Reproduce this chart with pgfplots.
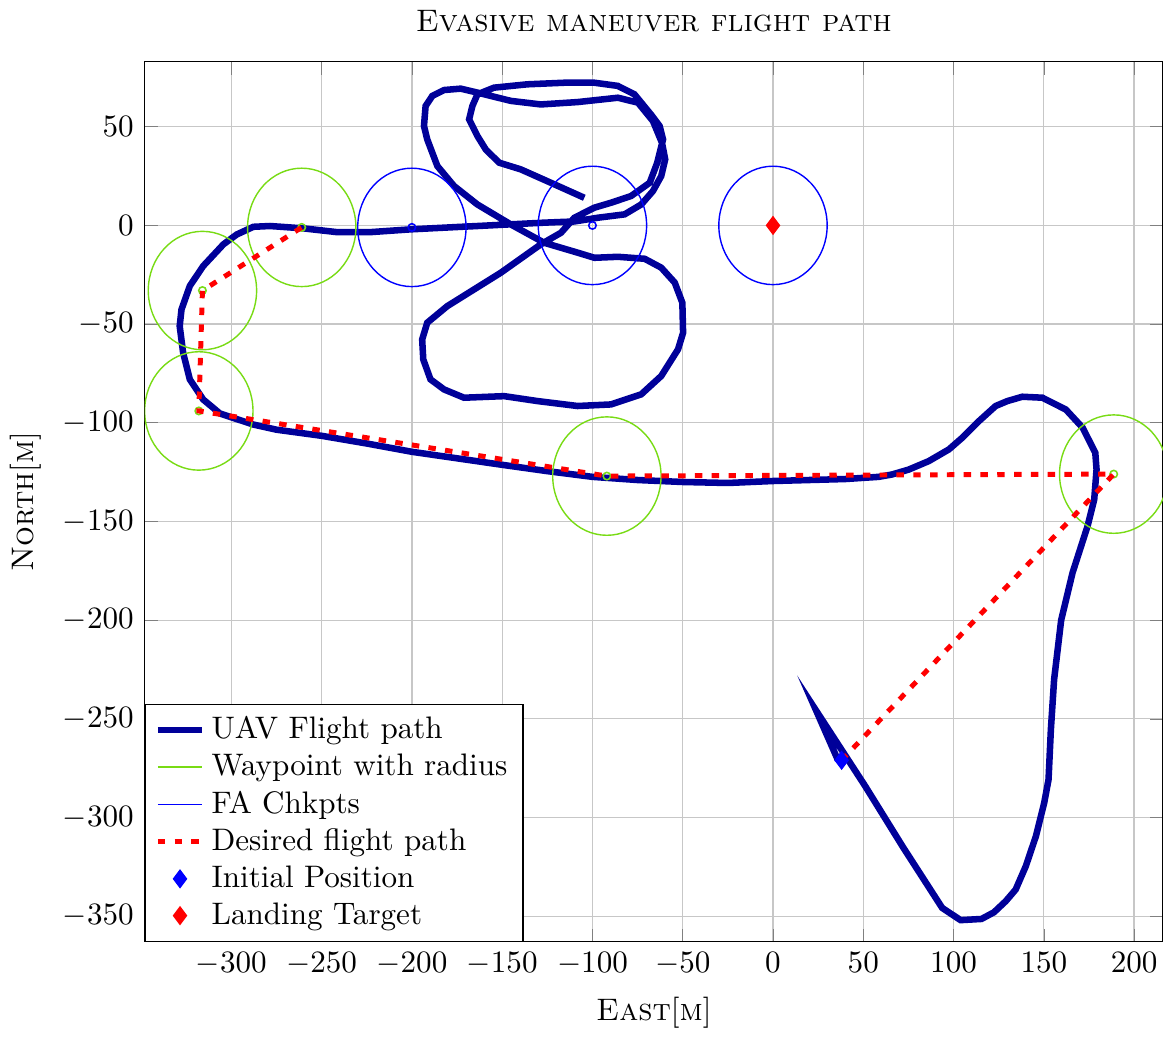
\documentclass[border=0pt]{standalone}
\usepackage{pgfplots}
\pgfplotsset{compat=1.18}
\usepackage{pgfplotstable}

\definecolor{uavblue}{rgb}{0,0,0.6}
\definecolor{wpgreen}{rgb}{0.47,0.86,0.08}
\definecolor{fablue}{rgb}{0,0,1}

% axis geometry (pt) and limits
\def\axW{327.4}
\def\axH{283.0}
\def\xminv{-348}
\def\xmaxv{216}
\def\yminv{-363}
\def\ymaxv{83}
% acceptance radius of waypoints and checkpoints [m]
\def\wpradius{30}
\pgfmathsetmacro\wpRx{\wpradius*\axW/((\xmaxv)-(\xminv))}
\pgfmathsetmacro\wpRy{\wpradius*\axH/((\ymaxv)-(\yminv))}
\pgfdeclareplotmark{wpring}{%
  \pgfpathellipse{\pgfpointorigin}{\pgfqpoint{\wpRx pt}{0pt}}{\pgfqpoint{0pt}{\wpRy pt}}%
  \pgfusepathqstroke}

% recorded UAV track (East, North)
\pgfplotstableread{
x y
36 -271
24 -246
51 -284
72 -315
93.7 -345.8
103.9 -352
115.5 -351.4
122.4 -348
128.9 -342.4
134.4 -336.5
140 -324.7
145.6 -309.5
150.2 -292.6
152.6 -280.8
153.9 -255.4
155.7 -230
159.6 -200
165.9 -176
174.2 -152.4
177.9 -138.9
179.2 -123.7
178.5 -115.2
171.5 -102.5
162.2 -93.3
149.2 -87.3
138.1 -86.8
129.8 -89
123.3 -91.5
114 -99.2
104.8 -107.6
97.4 -113.5
86.3 -119.4
75.2 -123.7
65.9 -126.2
58.5 -127.4
40 -128.5
20 -129
0 -129.5
-25 -130.5
-50 -130
-75 -129
-100 -127.4
-125 -124.5
-150 -121.3
-175 -118
-200 -114.7
-225 -110.5
-250 -106.6
-275 -103.5
-287.8 -100.9
-306.3 -95.3
-315.6 -88.2
-323 -78
-326.7 -64.5
-328.6 -51
-327.6 -42.6
-323 -30.7
-315.6 -20.6
-304.4 -9.6
-297 -4.6
-287.8 -0.7
-278.6 -0.3
-260 -1.5
-241.5 -3.4
-223 -3.4
-200.8 -2
-174.8 -0.8
-163.7 -0.3
-126.7 1.4
-110 2
-97 3.9
-82.2 5.6
-73 10.6
-66.5 17.4
-61.9 25
-59.7 33.5
-61.5 41.9
-66.5 52.9
-74.8 62.2
-85.9 64.7
-108.2 62.5
-128.6 61.3
-145.2 63.1
-163.7 67.3
-173 69.3
-182.2 68.6
-188.7 65.6
-192.4 60.5
-193.3 50.4
-191.5 43.6
-185.9 30.1
-176.7 20
-163.7 10.6
-145.2 0.5
-126.7 -8.8
-108.2 -13.8
-98.9 -16.4
-85.9 -15.9
-71.1 -16.9
-61.9 -21.4
-54.4 -29
-50.2 -39.2
-49.8 -54.4
-52.6 -62.8
-61.9 -76.3
-73 -85.6
-89.7 -90.7
-108.2 -91.5
-130.4 -89
-148.9 -86.5
-171.1 -87.3
-182.2 -83.1
-189.7 -78
-193.7 -67.9
-194.3 -57.8
-191.5 -49.3
-180.4 -40.9
-150.8 -24
-128.6 -9.6
-117.4 -3.7
-110 3.9
-98.9 9
-89.7 11.5
-78.6 14.9
-68.3 21.6
-64.1 31.8
-60.9 43.6
-62.8 50.4
-67.4 56
-76.7 66.4
-86 70.7
-98.9 72.3
-115.6 72.3
-136 71.5
-154.5 69.8
-163.7 66.4
-166.5 60.5
-168.3 53.7
-163.7 45.3
-159.1 38.5
-151.7 31.8
-139.7 28.4
-123 21.6
-104.5 14
}\uavpath

% waypoints of the mission
\pgfplotstableread{
x y
-261 -1
-316 -33
-318 -94
-92 -127
188.7 -126
}\waypoints

% final approach checkpoints
\pgfplotstableread{
x y
-200 -1
-100 0
0 0
}\fachkpts

% desired flight path through the waypoints
\pgfplotstableread{
x y
38 -271
188.7 -126
-92 -127
-318 -94
-316 -33
-261 -1
}\desired

\begin{document}
\begin{tikzpicture}[trim axis right]
\begin{axis}[
  scale only axis,
  width=\axW pt, height=\axH pt,
  xmin=\xminv, xmax=\xmaxv, ymin=\yminv, ymax=\ymaxv,
  xtick={-300,-250,...,200},
  ytick={-350,-300,...,50},
  grid=major,
  major grid style={line width=0.4pt, black!22},
  clip marker paths=true,
  title={\textsc{Evasive maneuver flight path}},
  xlabel={\textsc{East}[\textsc{m}]},
  ylabel={\textsc{North}[\textsc{m}]},
  legend cell align=left,
  legend style={at={(0,0)}, anchor=south west, draw=black, fill=white,
    row sep=-0.6pt},
  legend image code/.code={%
    \draw[mark repeat=2,mark phase=2,#1]
      plot coordinates {(0cm,0cm) (0.25cm,0cm) (0.5cm,0cm)};},
]
\addplot[uavblue, line width=2.1pt, miter limit=25] table {\uavpath};
\addlegendentry{UAV Flight path}

% acceptance circles around waypoints and checkpoints
\addplot[forget plot, only marks, mark=wpring, wpgreen, mark options={line width=0.45pt}]
  table {\waypoints};
\addplot[forget plot, only marks, mark=o, mark size=1.2pt, wpgreen, mark options={line width=0.5pt}]
  table {\waypoints};
\addlegendimage{legend image code/.code={%
  \draw[draw=wpgreen, line width=0.6pt] (0cm,0cm) -- (0.5cm,0cm);}}
\addlegendentry{Waypoint with radius}

\addplot[forget plot, only marks, mark=wpring, fablue, mark options={line width=0.45pt}]
  table {\fachkpts};
\addplot[forget plot, only marks, mark=o, mark size=1.2pt, fablue, mark options={line width=0.5pt}]
  table {\fachkpts};
\addlegendimage{legend image code/.code={%
  \draw[draw=fablue, line width=0.6pt] (0cm,0cm) -- (0.5cm,0cm);}}
\addlegendentry{FA Chkpts}

\addplot[red, line width=1.6pt, dash pattern=on 2.4pt off 3pt] table {\desired};
\addlegendentry{Desired flight path}

\addplot[only marks, mark=diamond*, mark size=2.8pt, fablue] coordinates {(38,-271)};
\addlegendentry{Initial Position}

\addplot[only marks, mark=diamond*, mark size=2.8pt, red] coordinates {(0,0)};
\addlegendentry{Landing Target}
\end{axis}
\end{tikzpicture}
\end{document}
